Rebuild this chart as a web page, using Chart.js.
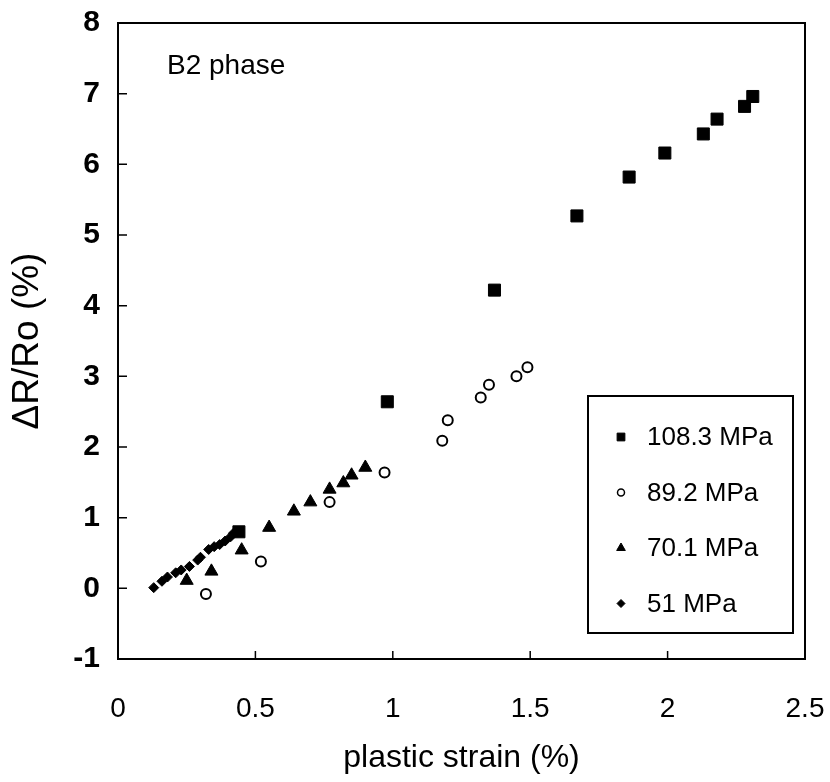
<!DOCTYPE html>
<html>
<head>
<meta charset="utf-8">
<title>B2 phase</title>
<script src="https://cdn.jsdelivr.net/npm/chart.js@4.4.1/dist/chart.umd.min.js"></script>
<style>
  body { margin: 0; background: #fff; }
</style>
</head>
<body>
<canvas id="chart" width="830" height="782"></canvas>
<script>
// ==========================
// Data
// ==========================
const labels = ["108.3 MPa", "89.2 MPa", "70.1 MPa", "51 MPa"];

const strain108 = [0.44, 0.98, 1.37, 1.67, 1.86, 1.99, 2.13, 2.18, 2.28, 2.31];
const dR108     = [0.80, 2.64, 4.22, 5.27, 5.82, 6.16, 6.43, 6.64, 6.82, 6.96];

const strain89 = [0.32, 0.52, 0.77, 0.97, 1.18, 1.20, 1.32, 1.35, 1.45, 1.49];
const dR89     = [-0.08, 0.38, 1.22, 1.64, 2.09, 2.38, 2.70, 2.88, 3.00, 3.13];

const strain70 = [0.25, 0.34, 0.45, 0.55, 0.64, 0.70, 0.77, 0.82, 0.85, 0.90];
const dR70     = [0.11, 0.24, 0.54, 0.86, 1.09, 1.22, 1.40, 1.49, 1.60, 1.71];

const strain51 = [0.13, 0.16, 0.18, 0.21, 0.23, 0.26, 0.29, 0.30, 0.33, 0.35, 0.37, 0.39, 0.41, 0.42];
const dR51     = [0.01, 0.10, 0.16, 0.22, 0.26, 0.31, 0.40, 0.44, 0.55, 0.59, 0.62, 0.67, 0.73, 0.78];

const xTicks = [0, 0.5, 1, 1.5, 2, 2.5];
const yTicks = [-1, 0, 1, 2, 3, 4, 5, 6, 7, 8];

const noteText = "B2 phase";
const xTitle = "plastic strain (%)";
const yTitle = "\u0394R/Ro (%)";

// === helpers ===
function toPoints(xs, ys) {
  return xs.map((x, i) => ({ x: x, y: ys[i] }));
}

Chart.defaults.font.family = "'Liberation Sans', Arial, Helvetica, sans-serif";
Chart.defaults.color = "#000";

// legend marker sizes (smaller than the plot markers)
const legendMarks = [
  { pointStyle: "rect", radius: 5.5, fill: "#000", lw: 1 },
  { pointStyle: "circle", radius: 3.5, fill: "#fff", lw: 1.5 },
  { pointStyle: "triangle", radius: 5, fill: "#000", lw: 1 },
  { pointStyle: "rectRot", radius: 4, fill: "#000", lw: 1 }
];

// === Frame, inward ticks, note and boxed legend ===
const framePlugin = {
  id: "frame",
  beforeDatasetsDraw(chart) {
    const { ctx, chartArea: a, scales } = chart;
    ctx.save();
    ctx.strokeStyle = "#000";
    ctx.lineWidth = 2;
    ctx.strokeRect(a.left, a.top, a.right - a.left, a.bottom - a.top);

    ctx.lineWidth = 1.5;
    ctx.beginPath();
    yTicks.forEach(v => {
      const py = scales.y.getPixelForValue(v);
      ctx.moveTo(a.left, py);
      ctx.lineTo(a.left + 9, py);
    });
    xTicks.forEach(v => {
      const px = scales.x.getPixelForValue(v);
      ctx.moveTo(px, a.bottom);
      ctx.lineTo(px, a.bottom - 8);
    });
    ctx.stroke();

    ctx.font = "28px 'Liberation Sans', Arial, sans-serif";
    ctx.fillStyle = "#000";
    ctx.textAlign = "left";
    ctx.textBaseline = "middle";
    ctx.fillText(noteText, 167, 66);
    ctx.restore();
  },
  afterDraw(chart) {
    const { ctx } = chart;
    const box = { x: 588, y: 396, w: 205, h: 237 };
    ctx.save();
    ctx.fillStyle = "#fff";
    ctx.fillRect(box.x, box.y, box.w, box.h);
    ctx.strokeStyle = "#000";
    ctx.lineWidth = 2;
    ctx.strokeRect(box.x, box.y, box.w, box.h);

    ctx.font = "26px 'Liberation Sans', Arial, sans-serif";
    ctx.textAlign = "left";
    ctx.textBaseline = "middle";
    chart.data.datasets.forEach((d, i) => {
      const cy = 437 + i * 55.5;
      const m = legendMarks[i];
      ctx.fillStyle = m.fill;
      ctx.strokeStyle = "#000";
      ctx.lineWidth = m.lw;
      Chart.helpers.drawPoint(ctx, { pointStyle: m.pointStyle, radius: m.radius, rotation: 0, borderWidth: m.lw }, 621, cy);
      ctx.fillStyle = "#000";
      ctx.fillText(d.label, 647, cy + 1);
    });
    ctx.restore();
  }
};

const ctx = document.getElementById("chart").getContext("2d");
const chart = new Chart(ctx, {
  type: "scatter",
  data: {
    datasets: [
      {
        label: labels[0],
        data: toPoints(strain108, dR108),
        pointStyle: "rect",
        pointRadius: 8.5,
        backgroundColor: "#000",
        borderColor: "#000",
        borderWidth: 1
      },
      {
        label: labels[1],
        data: toPoints(strain89, dR89),
        pointStyle: "circle",
        pointRadius: 5,
        backgroundColor: "#fff",
        borderColor: "#000",
        borderWidth: 2
      },
      {
        label: labels[2],
        data: toPoints(strain70, dR70),
        pointStyle: "triangle",
        pointRadius: 7.5,
        backgroundColor: "#000",
        borderColor: "#000",
        borderWidth: 1
      },
      {
        label: labels[3],
        data: toPoints(strain51, dR51),
        pointStyle: "rectRot",
        pointRadius: 5,
        backgroundColor: "#000",
        borderColor: "#000",
        borderWidth: 1
      }
    ]
  },
  options: {
    responsive: false,
    animation: false,
    layout: { padding: { top: 23, right: 25, left: 0, bottom: 0 } },
    plugins: {
      legend: { display: false },
      tooltip: { enabled: false }
    },
    scales: {
      x: {
        type: "linear",
        min: 0,
        max: 2.5,
        afterBuildTicks: s => { s.ticks = xTicks.map(v => ({ value: v })); },
        afterFit: s => { s.height = 123; s.paddingLeft = 0; s.paddingRight = 0; },
        grid: { display: false, drawTicks: false },
        border: { display: false },
        ticks: { padding: 33, font: { size: 28 }, color: "#000", maxRotation: 0, callback: v => String(v) },
        title: { display: true, text: xTitle, font: { size: 32 }, color: "#000", padding: { top: 0, bottom: 5 } }
      },
      y: {
        type: "linear",
        min: -1,
        max: 8,
        afterBuildTicks: s => { s.ticks = yTicks.map(v => ({ value: v })); },
        afterFit: s => { s.width = 118; s.paddingTop = 0; s.paddingBottom = 0; },
        grid: { display: false, drawTicks: false },
        border: { display: false },
        ticks: { padding: 18, font: { size: 30, weight: "bold" }, color: "#000", callback: v => String(v) },
        title: { display: true, text: yTitle, font: { size: 37 }, color: "#000", padding: { top: 6, bottom: 0 } }
      }
    }
  },
  plugins: [framePlugin]
});
</script>
</body>
</html>
